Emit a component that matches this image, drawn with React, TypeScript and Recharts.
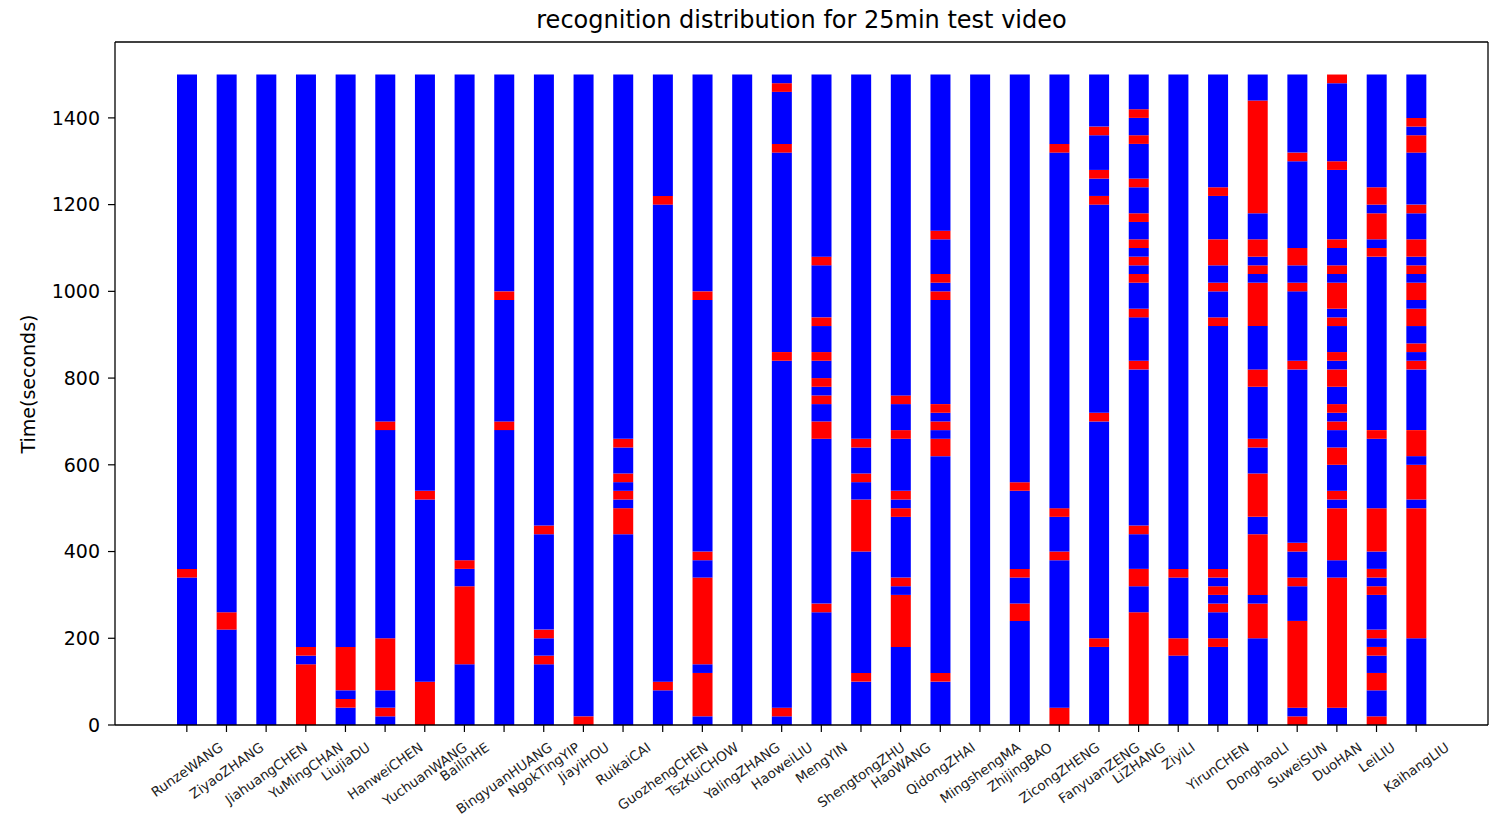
import React from 'react'
import { BarChart, Bar, XAxis, YAxis } from 'recharts'

// who watched the video, in plotting order
const PEOPLE = [
  'RunzeWANG', 'ZiyaoZHANG', 'JiahuangCHEN', 'YuMingCHAN', 'LiujiaDU', 'HanweiCHEN',
  'YuchuanWANG', 'BailinHE', 'BingyuanHUANG', 'NgokTingYIP', 'JiayiHOU', 'RuikaiCAI',
  'GuozhengCHEN', 'TszKuiCHOW', 'YalingZHANG', 'HaoweiLIU', 'MengYIN', 'ShengtongZHU',
  'HaoWANG', 'QidongZHAI', 'MingshengMA', 'ZhijingBAO', 'ZicongZHENG', 'FanyuanZENG',
  'LiZHANG', 'ZiyiLI', 'YirunCHEN', 'DonghaoLI', 'SuweiSUN', 'DuoHAN', 'LeiLIU', 'KaihangLIU',
]

// red spans (seconds) per person, same order as PEOPLE; everything else is blue
const RED_SPANS: [number, number][][] = [
  [[340, 360]],
  [[220, 260]],
  [],
  [[0, 140], [160, 180]],
  [[40, 60], [80, 180]],
  [[20, 40], [80, 200], [680, 700]],
  [[0, 100], [520, 540]],
  [[140, 320], [360, 380]],
  [[680, 700], [980, 1000]],
  [[140, 160], [200, 220], [440, 460]],
  [[0, 20]],
  [[440, 500], [520, 540], [560, 580], [640, 660]],
  [[80, 100], [1200, 1220]],
  [[20, 120], [140, 340], [380, 400], [980, 1000]],
  [],
  [[20, 40], [840, 860], [1320, 1340], [1460, 1480]],
  [[260, 280], [660, 700], [740, 760], [780, 800], [840, 860], [920, 940], [1060, 1080]],
  [[100, 120], [400, 520], [560, 580], [640, 660]],
  [[180, 300], [320, 340], [480, 500], [520, 540], [660, 680], [740, 760]],
  [[100, 120], [620, 660], [680, 700], [720, 740], [980, 1000], [1020, 1040], [1120, 1140]],
  [],
  [[240, 280], [340, 360], [540, 560]],
  [[0, 40], [380, 400], [480, 500], [1320, 1340]],
  [[180, 200], [700, 720], [1200, 1220], [1260, 1280], [1360, 1380]],
  [[0, 260], [320, 360], [440, 460], [820, 840], [940, 960], [1020, 1040], [1060, 1080],
    [1100, 1120], [1160, 1180], [1240, 1260], [1340, 1360], [1400, 1420]],
  [[160, 200], [340, 360]],
  [[180, 200], [260, 280], [300, 320], [340, 360], [920, 940], [1000, 1020], [1060, 1120], [1220, 1240]],
  [[200, 280], [300, 440], [480, 580], [640, 660], [780, 820], [920, 1020], [1040, 1060],
    [1080, 1120], [1180, 1440]],
  [[0, 20], [40, 240], [320, 340], [400, 420], [820, 840], [1000, 1020], [1060, 1100], [1300, 1320]],
  [[40, 340], [380, 500], [520, 540], [600, 640], [680, 700], [720, 740], [780, 820], [840, 860],
    [920, 940], [960, 1020], [1040, 1060], [1100, 1120], [1280, 1300], [1480, 1500]],
  [[0, 20], [80, 120], [160, 180], [200, 220], [300, 320], [340, 360], [400, 500], [660, 680],
    [1080, 1100], [1120, 1180], [1200, 1240]],
  [[200, 500], [520, 600], [620, 680], [820, 840], [860, 880], [920, 960], [980, 1020],
    [1040, 1060], [1080, 1120], [1180, 1200], [1320, 1360], [1380, 1400]],
]

const VIDEO_SECONDS = 1500
const Y_TICKS = [0, 200, 400, 600, 800, 1000, 1200, 1400]

const BLUE = '#0000ff'
const RED = '#ff0000'
const FONT = '"DejaVu Sans", sans-serif'

// blue, red, blue, red ... lengths, first blue may be 0
function toSegments(spans: [number, number][]) {
  const segs: number[] = []
  let pos = 0
  for (const [a, b] of spans) {
    segs.push(a - pos)
    segs.push(b - a)
    pos = b
  }
  segs.push(VIDEO_SECONDS - pos)
  return segs
}

const segmentLists = RED_SPANS.map(toSegments)
const segCount = Math.max(...segmentLists.map((s) => s.length))
const segKeys = Array.from({ length: segCount }, (_, i) => `s${i}`)

const data = PEOPLE.map((name, i) => {
  const row: Record<string, any> = { name }
  segKeys.forEach((k, j) => {
    row[k] = segmentLists[i][j] ?? 0
  })
  return row
})

let ctx: CanvasRenderingContext2D | null = null
function textWidth(s: string, font: string) {
  if (!ctx) ctx = document.createElement('canvas').getContext('2d')
  if (!ctx) return s.length * 8
  ctx.font = font
  return ctx.measureText(s).width
}

const LABEL_SIZE = 13.5
const LABEL_ANGLE = 35

// matplotlib-style rotated label: centred on the tick, bbox top-aligned
function NameTick(props: any) {
  const { x, y, payload } = props
  const w = textWidth(payload.value, `${LABEL_SIZE}px "DejaVu Sans"`)
  const th = (LABEL_ANGLE * Math.PI) / 180
  const h = LABEL_SIZE * 1.17
  const cy = y + (w * Math.sin(th) + h * Math.cos(th)) / 2
  return (
    <text
      x={x}
      y={cy}
      transform={`rotate(-${LABEL_ANGLE} ${x} ${cy})`}
      textAnchor="middle"
      dominantBaseline="central"
      fontSize={LABEL_SIZE}
      fontFamily={FONT}
      fill="#222"
    >
      {payload.value}
    </text>
  )
}

export default function App() {
  return (
    <div style={{ position: 'absolute', left: 0, top: 0, width: 1499, height: 819, background: '#fff' }}>
      <div
        style={{
          position: 'absolute',
          left: 115,
          width: 1373,
          top: 6,
          textAlign: 'center',
          fontFamily: FONT,
          fontSize: 24,
          color: '#000',
        }}
      >
        recognition distribution for 25min test video
      </div>
      <div
        style={{
          position: 'absolute',
          left: 28,
          top: 384,
          transform: 'translate(-50%, -50%) rotate(-90deg)',
          fontFamily: FONT,
          fontSize: 19,
          whiteSpace: 'nowrap',
          color: '#000',
        }}
      >
        Time(seconds)
      </div>
      <BarChart
        width={1499}
        height={819}
        data={data}
        margin={{ top: 41, right: 10, bottom: 0, left: 0 }}
        barSize={20}
      >
        <XAxis
          dataKey="name"
          interval={0}
          height={94}
          padding={{ left: 52, right: 52 }}
          tick={<NameTick />}
          tickSize={7}
          tickMargin={7}
          axisLine={{ stroke: '#000', strokeWidth: 1.3 }}
          tickLine={{ stroke: '#000', strokeWidth: 1.2 }}
        />
        <XAxis
          xAxisId="top"
          orientation="top"
          dataKey="name"
          height={1}
          tick={false}
          tickLine={false}
          axisLine={{ stroke: '#000', strokeWidth: 1.3 }}
        />
        <YAxis
          width={115}
          domain={[0, 1575]}
          ticks={Y_TICKS}
          allowDataOverflow
          tickSize={7}
          tickMargin={8}
          tick={{ fontSize: 19, fontFamily: FONT, fill: '#000' }}
          axisLine={{ stroke: '#000', strokeWidth: 1.3 }}
          tickLine={{ stroke: '#000', strokeWidth: 1.2 }}
        />
        <YAxis
          yAxisId="right"
          orientation="right"
          width={1}
          domain={[0, 1575]}
          tick={false}
          tickLine={false}
          axisLine={{ stroke: '#000', strokeWidth: 1.3 }}
        />
        {segKeys.map((k, i) => (
          <Bar
            key={k}
            dataKey={k}
            stackId="time"
            fill={i % 2 === 0 ? BLUE : RED}
            isAnimationActive={false}
          />
        ))}
      </BarChart>
    </div>
  )
}
